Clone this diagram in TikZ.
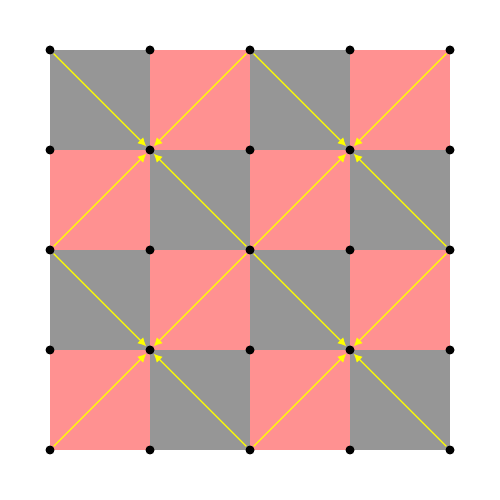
\documentclass[tikz,border=0pt]{standalone}
\usepackage{tikz}
\usetikzlibrary{arrows.meta,backgrounds}
\definecolor{cbGray}{RGB}{150,150,150}
\definecolor{cbPink}{RGB}{255,145,145}
\definecolor{cbLine}{RGB}{255,255,0}

\begin{document}
\begin{tikzpicture}[
  dot/.style={circle, fill=black, inner sep=0pt, minimum size=0.09cm},
  diag/.style={-{Latex[length=2.4pt,width=2.4pt]}, cbLine, line width=0.35pt}
]
% Fixed frame
\useasboundingbox (-0.5,-0.5) rectangle (4.5,4.5);

% Checkerboard
\begin{scope}[on background layer]
  \foreach \i in {0,...,3}
    \foreach \j in {0,...,3} {
      \pgfmathparse{mod(\i+\j,2)==0 ? "cbPink" : "cbGray"}
      \fill[\pgfmathresult] (\i,\j) rectangle ++(1,1);
    }
\end{scope}

% Grid points
\foreach \x in {0,...,4}
  \foreach \y in {0,...,4}
    \node[dot] (p-\x-\y) at (\x,\y) {};

% Diagonals into the odd points
\foreach \cx/\cy in {1/1,3/1,1/3,3/3}
  \foreach \dx/\dy in {-1/-1,1/-1,-1/1,1/1} {
    \pgfmathtruncatemacro{\sx}{\cx+\dx}
    \pgfmathtruncatemacro{\sy}{\cy+\dy}
    \draw[diag] (p-\sx-\sy) -- (p-\cx-\cy);
  }

\end{tikzpicture}
\end{document}
